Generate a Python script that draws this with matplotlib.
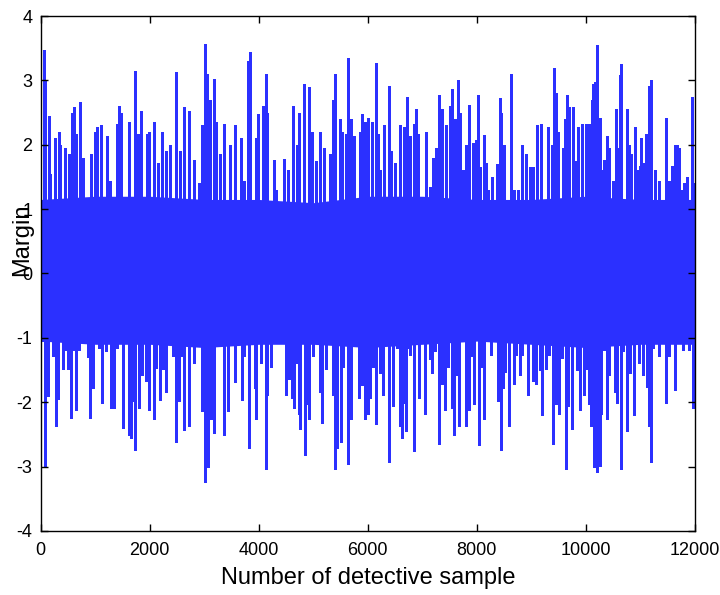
import matplotlib
matplotlib.use('Agg')
import matplotlib.pyplot as plt

plt.rcParams['font.family'] = ['Liberation Sans', 'DejaVu Sans']
plt.rcParams['axes.unicode_minus'] = False

# upward spikes: sample index, margin value
up_x = [67, 92, 153, 177, 263, 336, 361, 459, 520, 581, 618, 655, 728, 777, 826, 924, 997, 1046, 1119, 1229,
        1278, 1400, 1450, 1486, 1633, 1743, 1792, 1841, 1951, 1994, 2080, 2153, 2227, 2312, 2386, 2496, 2557, 2642,
        2728, 2826, 2911, 2973, 3021, 3058, 3107, 3193, 3230, 3291, 3377, 3475, 3573, 3683, 3732, 3805, 3842, 3952,
        4000, 4086, 4135, 4159, 4282, 4331, 4465, 4538, 4636, 4710, 4747, 4844, 4930, 4979, 5065, 5126, 5211, 5309,
        5370, 5407, 5492, 5529, 5615, 5651, 5700, 5762, 5859, 5908, 5957, 6018, 6080, 6153, 6190, 6239, 6300, 6398,
        6435, 6508, 6594, 6667, 6728, 6777, 6850, 6887, 6936, 7071, 7144, 7205, 7266, 7315, 7364, 7437, 7523, 7560,
        7609, 7670, 7707, 7756, 7805, 7866, 7939, 8001, 8038, 8074, 8135, 8172, 8221, 8294, 8380, 8429, 8454, 8515,
        8637, 8686, 8759, 8833, 8918, 8979, 9040, 9114, 9187, 9322, 9383, 9420, 9457, 9494, 9579, 9616, 9665, 9702,
        9774, 9823, 9872, 9933, 10007, 10056, 10117, 10141, 10178, 10215, 10264, 10301, 10337, 10386, 10435, 10496,
        10557, 10594, 10631, 10655, 10765, 10802, 10839, 10900, 10949, 10998, 11011, 11072, 11108, 11169, 11206,
        11267, 11341, 11475, 11524, 11585, 11634, 11671, 11707, 11756, 11805, 11854, 11952, 11988]
up_y = [3.47, 3.00, 2.45, 1.55, 2.10, 2.20, 2.00, 1.95, 1.85, 2.50, 2.58, 2.17, 2.66, 1.80, 1.15, 1.85, 2.20, 2.27, 2.30, 2.14,
        1.44, 2.33, 2.60, 2.50, 2.35, 3.15, 2.17, 2.53, 2.17, 2.20, 2.35, 1.72, 2.20, 1.90, 2.00, 3.13, 1.90, 2.58,
        2.53, 1.77, 1.40, 2.30, 3.57, 3.10, 2.69, 3.02, 2.35, 1.86, 2.33, 2.00, 2.30, 2.10, 1.44, 3.30, 3.44, 2.10,
        2.47, 2.60, 3.10, 2.50, 1.77, 1.30, 1.78, 1.60, 2.60, 2.00, 2.50, 2.95, 2.90, 2.20, 1.75, 2.20, 1.95, 1.86,
        2.70, 3.10, 2.40, 2.20, 2.17, 3.34, 2.40, 2.14, 2.20, 2.47, 2.35, 2.42, 2.35, 3.27, 2.17, 1.60, 2.30, 2.92,
        1.90, 1.72, 2.30, 2.27, 2.74, 2.14, 2.33, 2.55, 2.17, 2.20, 1.35, 1.80, 1.95, 2.77, 2.55, 2.30, 2.60, 2.86,
        2.40, 3.00, 2.50, 1.60, 2.00, 2.62, 2.03, 2.08, 2.77, 1.65, 2.15, 1.72, 1.30, 1.50, 1.70, 2.72, 2.50, 2.00,
        3.10, 1.30, 1.30, 2.00, 1.85, 1.65, 1.65, 2.30, 2.33, 2.27, 2.00, 3.20, 2.80, 2.20, 1.95, 2.40, 2.77, 2.58,
        2.58, 1.75, 2.27, 2.33, 2.33, 2.33, 2.69, 2.95, 2.98, 3.55, 2.42, 1.60, 1.77, 2.14, 1.95, 1.44,
        2.55, 1.95, 3.08, 3.26, 2.55, 2.00, 1.85, 2.27, 1.60, 1.67, 2.10, 1.72, 2.17, 2.92, 3.00,
        1.60, 1.44, 2.42, 1.44, 1.67, 2.00, 2.00, 1.95, 1.30, 1.40, 1.50, 2.74, 1.40]

# downward spikes
dn_x = [43, 80, 92, 141, 190, 239, 288, 324, 373, 410, 459, 508, 557, 606, 655, 704, 777, 875, 912, 973, 1034,
        1070, 1132, 1205, 1290, 1351, 1400, 1449, 1522, 1620, 1657, 1694, 1743, 1804, 1865, 1945, 1994, 2080, 2129,
        2190, 2251, 2312, 2374, 2435, 2484, 2545, 2594, 2642, 2728, 2814, 2973, 3021, 3083, 3132, 3193, 3377, 3438,
        3573, 3695, 3744, 3830, 3940, 3963, 4049, 4135, 4159, 4233, 4331, 4514, 4563, 4612, 4661, 4698, 4747, 4771,
        4857, 4893, 4930, 5004, 5077, 5126, 5175, 5236, 5321, 5370, 5407, 5443, 5517, 5553, 5651, 5700, 5798, 5847,
        5896, 5957, 6006, 6055, 6104, 6153, 6202, 6239, 6288, 6324, 6398, 6472, 6545, 6594, 6630, 6679, 6716, 6765,
        6790, 6863, 6948, 7010, 7058, 7107, 7156, 7193, 7242, 7315, 7376, 7425, 7474, 7547, 7596, 7633, 7682, 7743,
        7817, 7866, 7927, 7964, 8039, 8099, 8147, 8196, 8270, 8343, 8404, 8454, 8490, 8527, 8600, 8698, 8735, 8808,
        8845, 8943, 9004, 9040, 9102, 9163, 9200, 9273, 9334, 9408, 9457, 9518, 9567, 9640, 9677, 9747, 9847, 9909,
        9970, 10019, 10056, 10105, 10154, 10215, 10264, 10288, 10337, 10386, 10435, 10496, 10545, 10582, 10655, 10692,
        10765, 10814, 10888, 10937, 10986, 11047, 11096, 11133, 11157, 11206, 11243, 11304, 11353, 11475, 11524,
        11573, 11634, 11695, 11793, 11903, 11970, 12000]
dn_y = [-1.06, -2.05, -3.00, -1.92, -0.95, -1.30, -2.39, -1.97, -1.06, -1.50, -1.20, -1.50, -2.26, -1.20, -2.13, -1.20,
        -0.90, -1.32, -2.26, -1.80, -1.10, -1.17, -2.03, -1.22, -2.10, -2.10, -1.17, -0.90, -2.42, -2.52, -2.57, -2.00,
        -2.75, -2.10, -1.60, -1.69, -2.13, -2.28, -1.48, -1.98, -1.50, -1.86, -1.03, -1.30, -2.63, -2.00, -1.30, -2.44,
        -2.38, -1.40, -2.15, -3.25, -3.02, -2.27, -2.50, -2.52, -2.15, -1.70, -1.98, -1.30, -2.73, -1.80, -2.27, -1.40,
        -3.06, -1.90, -1.47, -1.00, -1.90, -1.65, -1.95, -2.10, -1.40, -2.20, -2.43, -2.83, -2.05, -2.27, -1.30, -1.05,
        -1.86, -2.34, -1.50, -1.00, -1.90, -3.06, -2.73, -2.63, -1.47, -2.97, -2.27, -1.00, -1.95, -1.75, -2.27, -2.20,
        -1.95, -1.47, -2.36, -0.93, -1.56, -1.90, -0.95, -2.94, -2.08, -1.17, -2.38, -2.57, -2.03, -2.47, -1.17, -1.28,
        -2.78, -1.95, -0.90, -2.20, -0.95, -1.35, -1.56, -1.22, -2.66, -1.73, -2.13, -1.47, -2.10, -2.52, -1.60, -2.38,
        -0.95, -2.38, -2.13, -1.30, -2.05, -2.68, -1.47, -2.27, -1.00, -1.28, -1.06, -2.00, -2.75, -1.80, -1.55, -2.38,
        -1.73, -1.28, -1.60, -1.28, -1.90, -0.93, -1.69, -1.73, -1.52, -2.22, -1.50, -1.28, -2.66, -2.05, -2.20, -1.33,
        -3.06, -2.08, -2.43, -1.52, -2.13, -1.90, -1.50, -2.05, -2.38, -3.02, -3.10, -3.00, -2.20, -1.20, -2.27, -1.60,
        -0.90, -1.86, -2.03, -3.06, -1.22, -2.47, -1.56, -2.22, -1.03, -1.40, -1.60, -0.90, -1.78, -2.38, -2.94, -1.17,
        -0.95, -1.30, -2.03, -1.30, -1.06, -1.83, -1.10, -1.20, -1.20, -2.10, -1.70]

# solid core of the signal, upper and lower edge
core_x = [0, 1000, 2000, 3000, 4000, 5000, 6000, 7000, 8000, 9000, 10000, 11000, 12000]
core_hi = [1.15, 1.20, 1.20, 1.15, 1.15, 1.10, 1.20, 1.20, 1.15, 1.15, 1.20, 1.15, 1.15]
core_lo = [-1.05, -1.10, -1.10, -1.15, -1.10, -1.10, -1.15, -1.10, -1.05, -1.10, -1.15, -1.10, -1.10]

x_ticks = [0, 2000, 4000, 6000, 8000, 10000, 12000]
y_ticks = [-4, -3, -2, -1, 0, 1, 2, 3, 4]

blue = '#2b30ff'
fig = plt.figure(figsize=(7.2, 5.95), dpi=100)
ax = fig.add_axes([0.0565, 0.1076, 0.9088, 0.8655])
ax.fill_between(core_x, core_lo, core_hi, color=blue, lw=0)
ax.bar(up_x, up_y, width=55, color=blue, lw=0)
ax.bar(dn_x, dn_y, width=55, color=blue, lw=0)

ax.set_xlim(0, 12000), ax.set_ylim(-4, 4)
ax.set_xticks(x_ticks), ax.set_yticks(y_ticks)
ax.tick_params(direction='in', length=5, width=1, top=True, right=True, labelsize=13)
ax.tick_params(axis='x', pad=8)
ax.tick_params(axis='y', pad=6)
for s in ax.spines.values():
    s.set_linewidth(1)
ax.set_xlabel('Number of detective sample', fontsize=17, labelpad=6)
ax.set_ylabel('Margin', fontsize=17)
ax.yaxis.set_label_coords(-0.0118, 0.565)
fig.savefig('out.png', dpi=100)
